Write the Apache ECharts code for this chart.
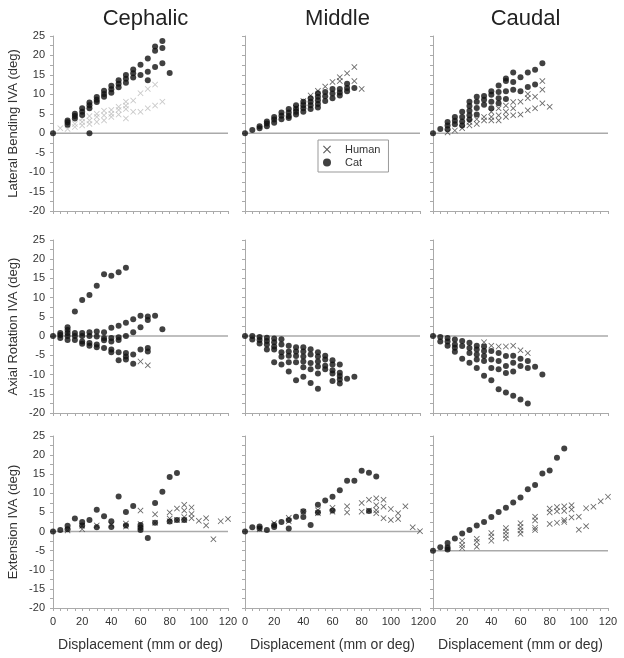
<!DOCTYPE html>
<html>
<head>
<meta charset="utf-8">
<script src="https://cdn.jsdelivr.net/npm/echarts@6/dist/echarts.min.js"></script>
<style>
  html, body { margin: 0; padding: 0; background: #fff; }
  #chart { width: 624px; height: 658px; }
</style>
</head>
<body>
<div id="chart"></div>
<script>
// region labels
const columns = ['Cephalic', 'Middle', 'Caudal'];
const rowNames = ['Lateral Bending IVA (deg)', 'Axial Rotation IVA (deg)', 'Extension IVA (deg)'];
const xName = 'Displacement (mm or deg)';
const xTicks = [0, 20, 40, 60, 80, 100, 120];
const yTicks = [-20, -15, -10, -5, 0, 5, 10, 15, 20, 25];
// reference line level per panel (row by row)
const baselines = [0, 0, 0, 0, 0, 0, 0, 0, -5];

// Lateral bending
const cephLatCat = [[0,0],[10,3.3],[10,2.8],[10,2.2],[15,5],[15,4.4],[15,3.8],[20,6.4],[20,5.5],[20,4.7],
  [25,7.9],[25,7.2],[25,6.4],[25,0],[30,9.3],[30,8.6],[30,8],[35,10.9],[35,10.1],[35,9.4],[40,12.2],[40,11.3],[40,10.4],
  [45,13.6],[45,12.7],[45,11.8],[50,15],[50,14],[50,13],[55,16.4],[55,15.4],[55,14.3],[60,17.6],[60,15],
  [65,19.2],[65,15.8],[65,13.6],[70,22.3],[70,21.2],[70,17],[75,23.7],[75,21.9],[75,18],[80,15.5]];
const cephLatHuman = [[5,1.3],[10,2],[10,1.1],[15,2.4],[15,1.6],[20,3.8],[20,2.9],[20,2],[25,4.4],[25,3.3],[25,2.4],
  [30,5],[30,4.2],[30,2.9],[35,5.8],[35,4.6],[35,3.3],[40,6],[40,5],[40,4.2],[45,6.8],[45,6],[45,4.8],
  [50,8.1],[50,7.1],[50,6.2],[50,3.8],[55,8.4],[55,5.5],[60,10.3],[60,5.5],[65,11.4],[65,6.4],[70,12.5],[70,7.1],[75,8.1]];
const midLatCat = [[0,0],[5,0.8],[10,1.8],[10,1.3],[15,3],[15,2.5],[15,1.8],[20,4.2],[20,3.5],[20,2.7],
  [25,5.3],[25,4.5],[25,3.6],[30,6.2],[30,5.3],[30,4.4],[30,3.9],[35,7.2],[35,6.3],[35,5.5],[35,4.8],
  [40,8.1],[40,7.2],[40,6.4],[40,5.5],[45,9],[45,8.1],[45,7.2],[45,6.2],[50,10.3],[50,9.4],[50,8.5],[50,7.5],[50,6.6],
  [55,10.6],[55,9.5],[55,8.3],[60,11.4],[60,10.2],[60,9],[65,11.4],[65,10.5],[65,9.7],[70,12.7],[70,11.6],[70,10.8],[75,11.6]];
const midLatHuman = [[35,6.5],[40,8.3],[45,9.7],[50,10.9],[55,12],[60,13.2],[65,14.4],[65,13.4],[70,15.4],
  [75,17],[75,13.4],[80,11.4]];
const caudLatCat = [[0,0],[5,1.1],[10,2.9],[10,2],[10,1],[15,4.2],[15,3.2],[15,2.3],[20,5.5],[20,4.2],[20,3],[20,2],
  [25,8.1],[25,7],[25,5.8],[25,4.6],[25,3.5],[30,9.4],[30,8.1],[30,6.5],[30,4.8],[35,9.6],[35,8.6],[35,7.3],
  [40,10.8],[40,9.9],[40,8.1],[40,6.4],[45,12.3],[45,10.6],[45,9],[45,7.7],[50,14.1],[50,13.4],[50,10.8],[50,8.8],
  [55,15.6],[55,13.2],[55,11.2],[60,14.4],[60,10.8],[65,15.6],[65,11.9],[70,16.3],[70,12.5],[75,18]];
const caudLatHuman = [[10,0.2],[15,0.7],[20,1.3],[25,2.9],[25,2],[30,3.6],[30,2.4],[35,4.2],[35,3.3],
  [40,5.5],[40,4.2],[40,3.3],[45,6.4],[45,4.6],[45,3.3],[50,7.1],[50,5.5],[50,4.2],[55,8],[55,6.4],[55,4.6],
  [60,8.1],[60,4.8],[65,10.1],[65,9],[65,5.9],[70,9.4],[70,6.4],[75,13.4],[75,11.2],[75,7.7],[80,6.8]];

// Axial rotation
const cephAxCat = [[0,0],[5,0.8],[5,0.3],[5,-0.5],[10,2.3],[10,1.6],[10,0.8],[10,0],[10,-1],[15,6.4],[15,0.8],[15,0],[15,-1],
  [20,9.4],[20,0.8],[20,0],[20,-1.4],[20,-2],[25,10.7],[25,1],[25,0],[25,-1.8],[25,-2.5],[30,13.1],[30,1.2],[30,-0.1],[30,-2.2],[30,-2.9],
  [35,16.1],[35,1],[35,-0.5],[35,-1.1],[35,-3.1],[40,15.7],[40,2.2],[40,-0.5],[40,-1.4],[40,-3.5],[40,-4.2],
  [45,16.6],[45,2.7],[45,-0.3],[45,-1],[45,-4.2],[45,-6.3],[50,17.8],[50,3.5],[50,0],[50,-4.4],[50,-5.3],[50,-6.1],
  [55,4.4],[55,1],[55,-4.8],[55,-7.2],[60,5.3],[60,2.3],[60,-3.5],[65,5.1],[65,4.2],[65,-3.1],[65,-4],[70,5.3],[75,1.8]];
const cephAxHuman = [[60,-6.6],[65,-7.6]];
const midAxCat = [[0,0],[5,0],[5,-0.9],[10,-0.2],[10,-1],[10,-1.9],[15,-0.4],[15,-1.3],[15,-2.2],[15,-3.5],
  [20,-0.6],[20,-1.6],[20,-2.7],[20,-3.5],[20,-6.8],[25,-0.8],[25,-2.2],[25,-4.2],[25,-5.4],[25,-7.4],
  [30,-2.5],[30,-4],[30,-5.1],[30,-6.8],[30,-9.2],[35,-2.9],[35,-4],[35,-5.2],[35,-6.8],[35,-11.5],
  [40,-2.9],[40,-4],[40,-5.3],[40,-6.6],[40,-8.1],[40,-10.6],[45,-3.4],[45,-4.8],[45,-7],[45,-8.6],[45,-12.2],
  [50,-4.2],[50,-5.3],[50,-6.6],[50,-7.9],[50,-9.7],[50,-13.7],[55,-5.1],[55,-6.1],[55,-7.7],[55,-8.6],
  [60,-6.3],[60,-7.4],[60,-8.9],[60,-9.7],[60,-11.7],[65,-7.4],[65,-9.5],[65,-10.4],[65,-11.3],[65,-12.3],[70,-11.1],[75,-10.6]];
const midAxHuman = [];
const caudAxCat = [[0,0],[5,-0.2],[5,-1.4],[10,-0.5],[10,-1.4],[10,-2.5],[15,-0.9],[15,-2.2],[15,-3],[15,-4.1],
  [20,-1.3],[20,-2.6],[20,-5.9],[25,-1.7],[25,-3.1],[25,-4.4],[25,-6.9],[30,-2.5],[30,-3.5],[30,-4.8],[30,-6.1],[30,-8.3],
  [35,-2.7],[35,-3.9],[35,-5.2],[35,-6.5],[35,-10.3],[40,-3.9],[40,-6.1],[40,-8.3],[40,-11.5],[45,-4.4],[45,-6.5],[45,-8.6],[45,-13.8],
  [50,-5.2],[50,-7.8],[50,-9.6],[50,-14.7],[55,-5.1],[55,-6.9],[55,-9.2],[55,-15.5],[60,-5.9],[60,-7.8],[60,-16.5],
  [65,-6.5],[65,-8.3],[65,-17.5],[70,-8],[75,-10]];
const caudAxHuman = [[35,-1.6],[40,-2.5],[45,-2.7],[50,-2.7],[55,-2.5],[60,-3.7],[65,-4.4]];

// Extension
const cephExtCat = [[0,0],[5,0.4],[10,1.5],[10,0.6],[15,3.4],[20,2.5],[20,1.6],[25,3],[30,5.7],[30,1.1],[35,4],
  [40,2.7],[40,1.2],[45,9.2],[50,5.1],[50,1.6],[55,6.7],[60,1.7],[60,1],[60,0.4],[65,-1.7],[70,7.5],[70,2.3],
  [75,10.4],[80,14.3],[80,2.6],[85,15.3],[85,3],[90,3]];
const cephExtHuman = [[10,0.3],[20,1.5],[20,0.6],[30,1.6],[40,1.8],[50,2.1],[50,1.3],[60,5.5],[60,2],[70,4.5],[70,2.3],
  [80,5],[80,3.4],[80,2.7],[85,6],[85,3],[90,7],[90,5.5],[90,3.8],[90,3],[95,6.3],[95,4.6],[95,3.5],
  [100,2.8],[105,3.5],[105,1.6],[110,-2],[115,2.7],[120,3.3]];
const midExtCat = [[0,0],[5,1.1],[10,1.3],[10,0.8],[15,0.4],[20,1.7],[20,1.2],[25,2.5],[30,3],[30,0.8],[35,3.9],
  [40,5.3],[40,3.8],[45,1.7],[50,7],[50,5],[55,8.1],[60,9.1],[60,5.5],[65,10.8],[70,13.3],[75,13.3],
  [80,15.9],[85,15.4],[85,5.4],[90,14.4]];
const midExtHuman = [[10,0.6],[20,2.2],[30,3.6],[30,2.7],[40,5.2],[50,5.6],[50,4.8],[60,6.2],[60,5.2],[70,6.6],[70,5],
  [80,7.5],[80,5.2],[85,8.3],[85,5.5],[90,8.7],[90,6.9],[90,5.6],[90,4.8],[95,8.3],[95,6.5],[95,3.5],
  [100,5.9],[100,3],[105,4.8],[105,3.3],[110,6.6],[115,1.1],[120,0.1]];
const caudExtCat = [[0,-5],[5,-4.1],[10,-3],[10,-4.2],[10,-4.7],[15,-1.8],[20,-0.5],[25,0.4],[30,1.6],[35,2.5],
  [40,3.8],[45,5.1],[50,6.2],[55,7.6],[60,8.9],[65,11.1],[70,12.2],[75,15.2],[80,16],[85,19.3],[90,21.7]];
const caudExtHuman = [[10,-4.3],[20,-3.5],[20,-2.4],[20,-4.3],[30,-2.7],[30,-1.9],[30,-4],[40,-1.3],[40,-0.4],[40,-2.4],
  [50,0.9],[50,0],[50,-0.9],[50,-1.8],[60,2.2],[60,1.2],[60,0.3],[60,-0.6],[70,3.9],[70,2.9],[70,1],[70,0.4],
  [80,6],[80,5],[80,2],[85,6.4],[85,5.3],[85,2.3],[90,6.6],[90,5.4],[90,3],[90,2.5],[95,6.9],[95,5.8],[95,3.7],
  [100,3.9],[100,0.5],[105,6.1],[105,1.4],[110,6.5],[115,7.9],[120,9.1]];

const catSets = [cephLatCat, midLatCat, caudLatCat, cephAxCat, midAxCat, caudAxCat, cephExtCat, midExtCat, caudExtCat];
const humanSets = [cephLatHuman, midLatHuman, caudLatHuman, cephAxHuman, midAxHuman, caudAxHuman, cephExtHuman, midExtHuman, caudExtHuman];

const font = '"Liberation Sans", Arial, sans-serif';
const xMark = 'path://M0,1L1,0L5,4L9,0L10,1L6,5L10,9L9,10L5,6L1,10L0,9L4,5Z';
const colLeft = [53, 245, 433];
const colWidth = 175;
const rowTop = [36, 240, 436];
const rowHeight = [175, 173, 172];
const axisGray = '#aaa';

const grids = [], xAxes = [], yAxes = [], series = [];
for (let i = 0; i < 9; i++) {
  const r = Math.floor(i / 3), c = i % 3;
  grids.push({ left: colLeft[c], top: rowTop[r], width: colWidth, height: rowHeight[r] });
  xAxes.push({
    gridIndex: i, type: 'value',
    min: xTicks[0], max: xTicks[xTicks.length - 1], interval: xTicks[1] - xTicks[0],
    axisLine: { show: true, onZero: false, lineStyle: { color: axisGray } },
    axisTick: { show: true, length: 3, lineStyle: { color: axisGray } },
    minorTick: { show: true, splitNumber: 4, length: 3, lineStyle: { color: axisGray } },
    splitLine: { show: false },
    axisLabel: { show: r === 2, color: '#333', fontSize: 11, margin: 8, fontFamily: font },
    name: r === 2 ? xName : '', nameLocation: 'middle', nameGap: 30,
    nameTextStyle: { fontSize: 14, color: '#333', fontFamily: font }
  });
  yAxes.push({
    gridIndex: i, type: 'value',
    min: yTicks[0], max: yTicks[yTicks.length - 1], interval: yTicks[1] - yTicks[0],
    axisLine: { show: true, onZero: false, lineStyle: { color: axisGray } },
    axisTick: { show: true, length: 3, lineStyle: { color: axisGray } },
    minorTick: { show: true, splitNumber: 2, length: 3, lineStyle: { color: axisGray } },
    splitLine: { show: false },
    axisLabel: { show: c === 0, color: '#333', fontSize: 11, margin: 8, fontFamily: font },
    name: c === 0 ? rowNames[r] : '', nameLocation: 'middle', nameGap: 33,
    nameTextStyle: { fontSize: 13, color: '#333', fontFamily: font }
  });
  series.push({
    type: 'line', xAxisIndex: i, yAxisIndex: i, silent: true, symbol: 'none', z: 1,
    data: [[xTicks[0], baselines[i]], [xTicks[xTicks.length - 1], baselines[i]]],
    lineStyle: { color: '#aaa', width: 1.5 }
  });
  series.push({
    name: 'Human', type: 'scatter', xAxisIndex: i, yAxisIndex: i, z: 2,
    symbol: xMark, symbolSize: 6, data: humanSets[i],
    itemStyle: { color: i === 0 ? '#bbb' : '#444' }
  });
  series.push({
    name: 'Cat', type: 'scatter', xAxisIndex: i, yAxisIndex: i, z: 3,
    symbol: 'circle', symbolSize: 6, data: catSets[i],
    itemStyle: { color: '#111' }
  });
}

const chart = echarts.init(document.getElementById('chart'));
chart.setOption({
  animation: false,
  backgroundColor: '#fff',
  textStyle: { fontFamily: font },
  title: columns.map((t, c) => ({
    text: t, left: colLeft[c] + colWidth / 2, top: 3, textAlign: 'center',
    textStyle: { fontSize: 22, fontWeight: 'normal', color: '#222', fontFamily: font }
  })),
  legend: {
    left: 318, top: 140, orient: 'vertical',
    borderColor: '#999', borderWidth: 1, padding: [4, 8, 4, 5], itemGap: 2,
    itemWidth: 8, itemHeight: 8,
    textStyle: { fontSize: 11, color: '#333', padding: [0, 0, 0, 9], fontFamily: font },
    data: [
      { name: 'Human', icon: xMark, itemStyle: { color: '#333' } },
      { name: 'Cat', icon: 'circle', itemStyle: { color: '#111' } }
    ]
  },
  grid: grids,
  xAxis: xAxes,
  yAxis: yAxes,
  series: series
});
</script>
</body>
</html>
